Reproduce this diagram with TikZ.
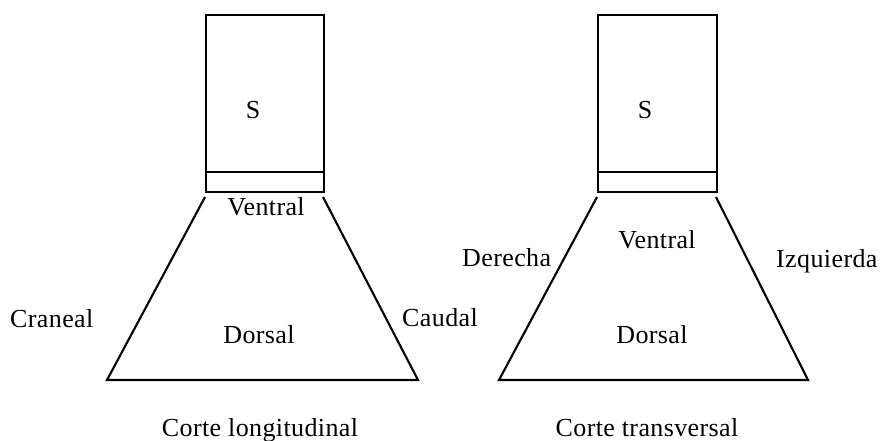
\documentclass[tikz,border=0pt]{standalone}
\usepackage{fontspec}
\setmainfont{Liberation Serif}[LetterSpace=1.5]
\usepackage{tikz}

\begin{document}
\begin{tikzpicture}[x=1pt,y=-1pt]
            \useasboundingbox (0,0) rectangle (880,441);
            \tikzset{box/.style={line width=2.6pt},
                     side/.style={line width=2.1pt},
                     lbl/.style={inner sep=0pt,anchor=base,font=\fontsize{26}{30}\selectfont}}
            % corte longitudinal
            \begin{scope}
                \coordinate (a1) at (206,15);
                \coordinate (a2) at (324,192);
                \coordinate (a3) at (206,172);
                \coordinate (a4) at (324,172);
                \coordinate (a5) at (205,197);
                \coordinate (a6) at (323,197);
                \coordinate (a7) at (107,380);
                \coordinate (a8) at (418,380);
                \draw[box] (a1) rectangle (a2);
                \draw[box] (a3) -- (a4);
                \draw[side] (a5) -- (a7) -- (a8) -- (a6);

                \node[lbl] (s1) at (253,118) {S};
                \node[lbl] (v1) at (266,215) {Ventral};
                \node[lbl] (d1) at (259,343) {Dorsal};
                \node[lbl,anchor=base west] (cr) at (10,327) {Craneal};
                \node[lbl,anchor=base west] (ca) at (402,326) {Caudal};
                \node[lbl] (c1) at (260,436) {Corte longitudinal};
            \end{scope}
            % corte transversal
            \begin{scope}
                \coordinate (b1) at (598,15);
                \coordinate (b2) at (717,192);
                \coordinate (b3) at (598,172);
                \coordinate (b4) at (717,172);
                \coordinate (b5) at (597,197);
                \coordinate (b6) at (716,197);
                \coordinate (b7) at (499,380);
                \coordinate (b8) at (808,380);
                \draw[box] (b1) rectangle (b2);
                \draw[box] (b3) -- (b4);
                \draw[side] (b5) -- (b7) -- (b8) -- (b6);

                \node[lbl] (s2) at (645,118) {S};
                \node[lbl] (v2) at (657,248) {Ventral};
                \node[lbl] (d2) at (652,343) {Dorsal};
                \node[lbl,anchor=base west] (de) at (462,266) {Derecha};
                \node[lbl,anchor=base west] (iz) at (776,267) {Izquierda};
                \node[lbl] (c2) at (647,436) {Corte transversal};
            \end{scope}
        \end{tikzpicture}
\end{document}
